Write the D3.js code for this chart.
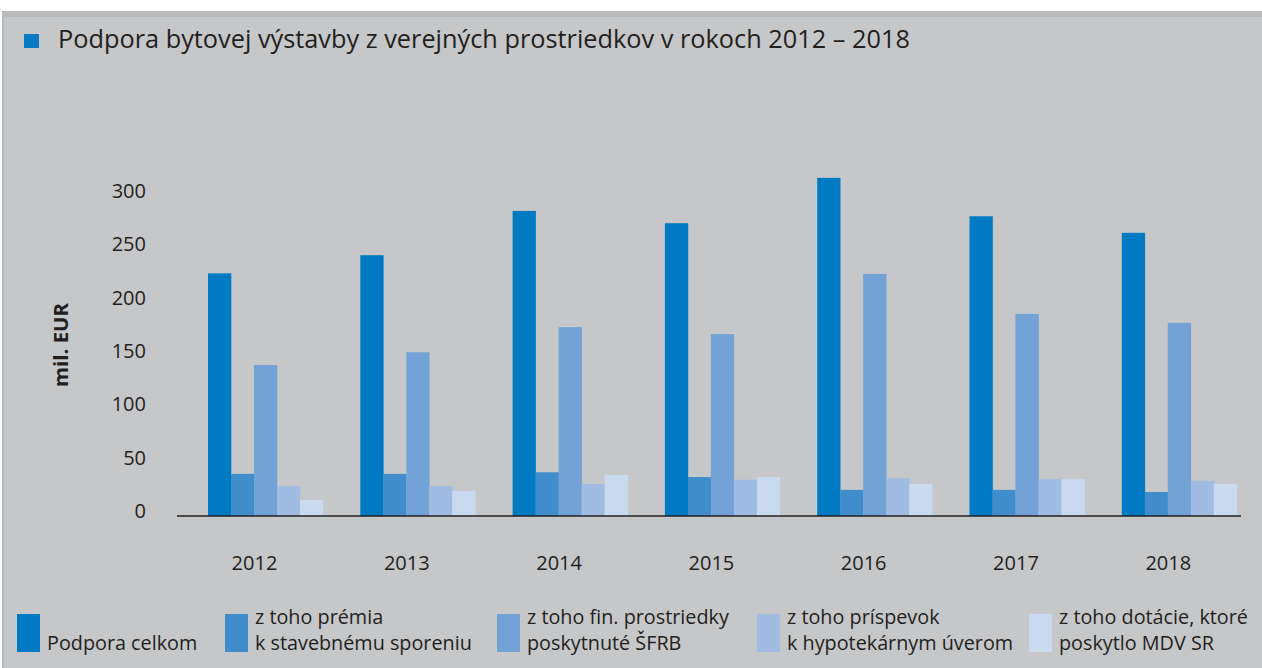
<!DOCTYPE html>
<html>
<head>
<meta charset="utf-8">
<script src="https://cdn.jsdelivr.net/npm/d3@7"></script>
<style>
  html, body { margin: 0; padding: 0; background: #ffffff; }
  svg { display: block; }
  text { font-family: "Open Sans", "Noto Sans", sans-serif; fill: #231f20; }
</style>
</head>
<body>
<svg id="chart" width="1262" height="668"></svg>
<script>
// ---- data ----
const years = ["2012", "2013", "2014", "2015", "2016", "2017", "2018"];
const seriesNames = [
  ["Podpora celkom"],
  ["z toho prémia", "k stavebnému sporeniu"],
  ["z toho fin. prostriedky", "poskytnuté ŠFRB"],
  ["z toho príspevok", "k hypotekárnym úverom"],
  ["z toho dotácie, ktoré", "poskytlo MDV SR"]
];
const podporaCelkom = [227.5, 244.5, 286, 274.5, 317, 281, 265.5];
const premia        = [39.5, 39.5, 41, 36.5, 24.5, 24.5, 22.5];
const finProstriedky = [141.5, 153.5, 177, 170.5, 227, 189.5, 181];
const prispevok     = [28, 28, 30, 34, 35.5, 34.5, 33];
const dotacie       = [15, 23.5, 38.5, 36.5, 30, 34.5, 30];
const yTicks = [0, 50, 100, 150, 200, 250, 300];
const title = "Podpora bytovej výstavby z verejných prostriedkov v rokoch 2012 – 2018";
const yTitle = "mil. EUR";

const seriesValues = [podporaCelkom, premia, finProstriedky, prispevok, dotacie];
const colors = ["#007ac2", "#418ccb", "#72a2d6", "#a0bce3", "#c9d9f0"];

// ---- layout ----
const svg = d3.select("#chart");
svg.append("rect").attr("x", 0).attr("y", 0).attr("width", 1262).attr("height", 668).attr("fill", "#ffffff");
svg.append("rect").attr("x", 2).attr("y", 11).attr("width", 1260).attr("height", 657).attr("fill", "#b9babc");
svg.append("rect").attr("x", 4).attr("y", 17).attr("width", 1258).attr("height", 651).attr("fill", "#c6c7c9");

function fitWidth(sel, target) {
  const w = sel.node().getComputedTextLength();
  const fs = parseFloat(sel.attr("font-size"));
  sel.attr("font-size", (fs * target / w).toFixed(2));
}

// title
svg.append("rect").attr("x", 24).attr("y", 34).attr("width", 15).attr("height", 14).attr("fill", "#0a7ac4");
const t = svg.append("text").attr("x", 58).attr("y", 48).attr("font-size", 26).text(title);
fitWidth(t, 852);

// scales
const y = d3.scaleLinear().domain([0, 300]).range([516, 196]);
const step = 152.3, pIn = 0.245, pOut = pIn / 2;
const r0 = 208 - pOut * step;
const x = d3.scaleBand().domain(years).range([r0, r0 + years.length * step]).paddingInner(pIn).paddingOuter(pOut);
const xs = d3.scaleBand().domain(d3.range(seriesValues.length)).range([0, x.bandwidth()]);

// y tick labels
const yAxis = d3.axisLeft(y).tickValues(yTicks).tickSize(0).tickPadding(0);
const ya = svg.append("g").attr("transform", "translate(146,-5)").call(yAxis);
ya.select(".domain").remove();
ya.selectAll("text").attr("font-size", 20).attr("fill", "#231f20")
  .style("font-family", '"Open Sans", "Noto Sans", sans-serif');

// y title
const yt = svg.append("text").attr("transform", "translate(68,345) rotate(-90)")
  .attr("text-anchor", "middle").attr("font-size", 17).attr("font-weight", "bold").text(yTitle);
fitWidth(yt, 84);

// bars
const groups = svg.append("g").selectAll("g").data(years).join("g")
  .attr("transform", d => `translate(${x(d)},0)`);
groups.selectAll("rect").data((d, i) => seriesValues.map((s, k) => ({ k, v: s[i] }))).join("rect")
  .attr("x", d => xs(d.k)).attr("width", xs.bandwidth() + 0.3)
  .attr("y", d => y(d.v)).attr("height", d => y(0) - y(d.v))
  .attr("fill", d => colors[d.k]);

// baseline
svg.append("line").attr("x1", 177).attr("x2", 1241).attr("y1", y(0)).attr("y2", y(0))
  .attr("stroke", "#231f20").attr("stroke-width", 1.6);

// x axis labels
const xAxis = d3.axisBottom(x).tickSize(0).tickPadding(0);
const xa = svg.append("g").attr("transform", "translate(-11,556)").call(xAxis);
xa.select(".domain").remove();
xa.selectAll("text").attr("font-size", 20).attr("fill", "#231f20")
  .style("font-family", '"Open Sans", "Noto Sans", sans-serif');

// legend
const legX = [17, 225, 497, 757, 1029];
const leg = svg.append("g").selectAll("g").data(seriesNames).join("g")
  .attr("transform", (d, i) => `translate(${legX[i]},0)`);
leg.append("rect").attr("x", 0).attr("y", 614).attr("width", 23).attr("height", 38)
  .attr("fill", (d, i) => colors[i]);
leg.each(function (lines) {
  const g = d3.select(this);
  const offs = lines.length === 1 ? [650] : [624, 650];
  lines.forEach((ln, j) => {
    g.append("text").attr("x", 30).attr("y", offs[j]).attr("font-size", 19.8).text(ln);
  });
});
</script>
</body>
</html>
